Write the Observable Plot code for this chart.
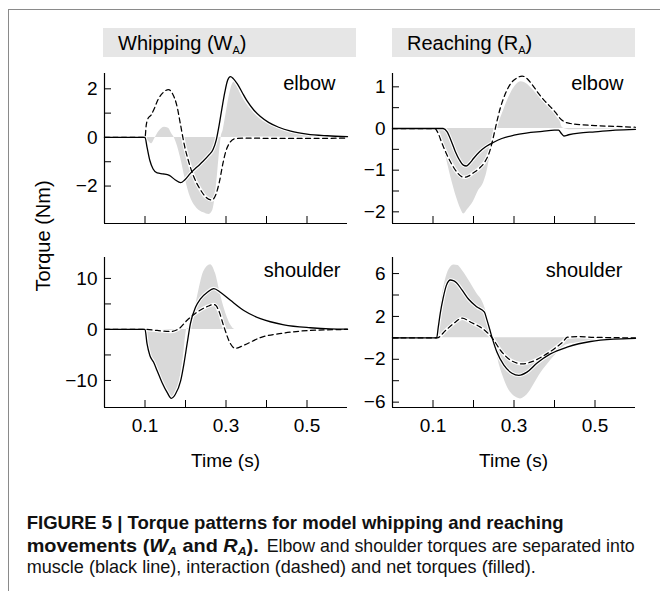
<!DOCTYPE html>
<html>
<head>
<meta charset="utf-8">
<script src="https://cdn.jsdelivr.net/npm/d3@7"></script>
<script src="https://cdn.jsdelivr.net/npm/@observablehq/plot@0.6"></script>
<style>
  body { margin: 0; background: #fff; }
  #root { position: relative; width: 660px; height: 591px; background: #fff; overflow: hidden;
          font-family: "Liberation Sans", Arial, Helvetica, sans-serif; color: #000; }
  .hdr { position: absolute; font-size: 20px; line-height: 20px; white-space: nowrap; }
  .hdr sub { font-size: 11px; vertical-align: -4px; line-height: 0; }
  .ttl { position: absolute; font-size: 19px; line-height: 19px; white-space: nowrap; transform: translateX(-50%); }
</style>
</head>
<body>
<div id="root"></div>
<script>
// ---------------- data (time s, torque Nm) ----------------
const xTicks = [0.1, 0.2, 0.3, 0.4, 0.5];
const xLabels = [0.1, 0.3, 0.5];

// Whipping (W_A) elbow
const wElbowMuscle = [[0,0],[0.1,0],[0.105,-0.4],[0.112,-0.95],[0.12,-1.3],[0.13,-1.46],[0.145,-1.5],[0.16,-1.56],[0.175,-1.75],[0.188,-1.86],[0.198,-1.75],[0.212,-1.48],[0.237,-1.08],[0.258,-0.72],[0.268,-0.5],[0.276,-0.1],[0.283,0.5],[0.29,1.2],[0.297,1.85],[0.304,2.35],[0.311,2.5],[0.318,2.42],[0.328,2.2],[0.34,1.85],[0.352,1.5],[0.369,1.12],[0.385,0.86],[0.405,0.62],[0.43,0.42],[0.46,0.26],[0.5,0.14],[0.55,0.07],[0.6,0.03]];
const wElbowInter = [[0,0],[0.1,0],[0.103,0.5],[0.108,0.8],[0.115,0.92],[0.122,1.15],[0.132,1.55],[0.145,1.85],[0.158,1.97],[0.168,1.8],[0.178,1.35],[0.188,0.5],[0.197,-0.3],[0.207,-0.95],[0.22,-1.6],[0.235,-2.1],[0.25,-2.45],[0.265,-2.57],[0.275,-2.35],[0.284,-1.8],[0.292,-1.1],[0.3,-0.55],[0.31,-0.2],[0.322,-0.05],[0.345,-0.03],[0.45,-0.04],[0.6,-0.03]];
const wElbowNet = [[0,0],[0.1,0],[0.108,-0.15],[0.116,-0.26],[0.124,-0.05],[0.135,0.25],[0.148,0.42],[0.158,0.38],[0.166,0.15],[0.172,0],[0.18,-0.35],[0.188,-0.85],[0.2,-1.75],[0.212,-2.45],[0.229,-2.93],[0.245,-3.1],[0.258,-3.17],[0.266,-3.05],[0.272,-2.6],[0.278,-1.7],[0.284,-0.6],[0.288,0],[0.293,0.3],[0.3,0.95],[0.308,1.7],[0.315,2.15],[0.321,2.28],[0.328,2.1],[0.336,1.8],[0.352,1.35],[0.369,1.0],[0.4,0.58],[0.43,0.37],[0.46,0.22],[0.5,0.12],[0.55,0.05],[0.6,0.02]];
const wElbowTicks = [-2, -1, 0, 1, 2];
const wElbowLabels = [-2, 0, 2];

// Reaching (R_A) elbow
const rElbowMuscle = [[0,0],[0.125,0],[0.135,-0.08],[0.145,-0.3],[0.155,-0.55],[0.165,-0.75],[0.175,-0.88],[0.182,-0.9],[0.19,-0.84],[0.2,-0.72],[0.215,-0.56],[0.23,-0.44],[0.25,-0.33],[0.27,-0.24],[0.3,-0.16],[0.33,-0.11],[0.37,-0.07],[0.4,-0.04],[0.41,-0.04],[0.417,-0.12],[0.423,-0.18],[0.435,-0.15],[0.46,-0.11],[0.5,-0.08],[0.55,-0.04],[0.6,-0.02]];
const rElbowInter = [[0,0],[0.105,0],[0.112,-0.1],[0.122,-0.35],[0.132,-0.58],[0.147,-0.87],[0.16,-1.06],[0.172,-1.16],[0.18,-1.17],[0.19,-1.13],[0.2,-1.06],[0.215,-0.95],[0.228,-0.8],[0.24,-0.55],[0.248,-0.25],[0.255,0.05],[0.265,0.45],[0.278,0.82],[0.292,1.08],[0.307,1.21],[0.32,1.26],[0.332,1.2],[0.345,1.05],[0.36,0.85],[0.375,0.67],[0.39,0.52],[0.403,0.38],[0.413,0.25],[0.423,0.17],[0.44,0.12],[0.47,0.09],[0.5,0.07],[0.55,0.05],[0.6,0.03]];
const rElbowNet = [[0,0],[0.108,0],[0.118,-0.15],[0.13,-0.6],[0.145,-1.2],[0.158,-1.65],[0.168,-1.92],[0.176,-2.05],[0.185,-1.95],[0.2,-1.75],[0.212,-1.5],[0.225,-1.3],[0.233,-1.05],[0.241,-0.65],[0.249,-0.25],[0.257,0],[0.265,0.2],[0.275,0.45],[0.288,0.76],[0.304,1.03],[0.318,1.12],[0.33,1.08],[0.345,0.95],[0.37,0.68],[0.39,0.48],[0.405,0.35],[0.413,0.2],[0.42,0.02],[0.44,-0.03],[0.5,-0.02],[0.6,0]];
const rElbowTicks = [-2, -1.5, -1, -0.5, 0, 0.5, 1];
const rElbowLabels = [-2, -1, 0, 1];

// Whipping (W_A) shoulder
const wShoulderMuscle = [[0,0],[0.1,0],[0.105,-2.8],[0.112,-5.1],[0.121,-6.4],[0.13,-8.1],[0.142,-10.4],[0.155,-12.4],[0.165,-13.5],[0.175,-12.7],[0.188,-10.1],[0.196,-6.8],[0.204,-2.8],[0.212,1.1],[0.225,4.4],[0.237,6.0],[0.254,7.3],[0.27,8.0],[0.286,7.3],[0.311,5.7],[0.344,3.7],[0.385,2.1],[0.443,0.9],[0.508,0.33],[0.557,0.1],[0.6,0.05]];
const wShoulderInter = [[0,0],[0.1,0],[0.13,-0.2],[0.163,-0.4],[0.183,0.1],[0.204,1.8],[0.229,3.4],[0.254,4.5],[0.27,4.9],[0.276,4.6],[0.282,3.7],[0.295,0.5],[0.311,-2.8],[0.323,-3.7],[0.344,-3.1],[0.385,-1.6],[0.443,-0.7],[0.508,-0.2],[0.6,0]];
const wShoulderNet = [[0,0],[0.1,0],[0.105,-3.0],[0.112,-5.3],[0.121,-6.6],[0.13,-8.3],[0.142,-10.7],[0.155,-12.7],[0.165,-13.7],[0.175,-12.9],[0.183,-11.0],[0.19,-8.0],[0.196,-4.5],[0.2,-1.5],[0.203,0],[0.212,0.5],[0.221,3.1],[0.233,7.7],[0.245,11.3],[0.262,12.7],[0.274,11],[0.286,7],[0.295,4.3],[0.303,2.4],[0.312,0.8],[0.322,0],[0.6,0]];
const wShoulderTicks = [-10, -5, 0, 5, 10];
const wShoulderLabels = [-10, 0, 10];

// Reaching (R_A) shoulder
const rShoulderMuscle = [[0,0],[0.109,0],[0.113,1.0],[0.118,2.3],[0.125,3.7],[0.133,4.9],[0.143,5.4],[0.15,5.35],[0.158,5.15],[0.172,4.45],[0.188,3.6],[0.209,2.87],[0.227,2.4],[0.233,1.7],[0.24,0.8],[0.246,0],[0.258,-1.35],[0.275,-2.55],[0.295,-3.3],[0.312,-3.5],[0.332,-3.2],[0.357,-2.35],[0.39,-1.5],[0.431,-0.87],[0.46,-0.55],[0.489,-0.34],[0.546,-0.12],[0.6,-0.04]];
const rShoulderInter = [[0,0],[0.11,0],[0.131,0.68],[0.152,1.37],[0.172,1.84],[0.193,1.46],[0.217,1.0],[0.233,0.53],[0.246,0],[0.267,-1.18],[0.292,-2.1],[0.321,-2.43],[0.341,-2.27],[0.374,-1.65],[0.399,-1.03],[0.42,-0.4],[0.432,0.06],[0.457,0.12],[0.5,0.05],[0.6,0]];
const rShoulderNet = [[0,0],[0.109,0],[0.115,1.8],[0.122,3.8],[0.13,5.3],[0.14,6.4],[0.152,6.8],[0.162,6.75],[0.172,6.3],[0.183,5.7],[0.193,5.1],[0.209,4.1],[0.222,3.4],[0.23,2.6],[0.238,1.3],[0.248,0],[0.258,-1.6],[0.266,-2.8],[0.275,-3.8],[0.285,-4.7],[0.295,-5.25],[0.307,-5.6],[0.316,-5.7],[0.327,-5.5],[0.337,-5.1],[0.35,-4.3],[0.366,-3.3],[0.38,-2.6],[0.395,-1.9],[0.41,-1.3],[0.42,-0.9],[0.43,-0.65],[0.45,-0.5],[0.49,-0.3],[0.55,-0.12],[0.6,-0.05]];
const rShoulderTicks = [-6, -4, -2, 0, 2, 4, 6];
const rShoulderLabels = [-6, -2, 2, 6];

const headers = ["Whipping (W", "Reaching (R"];
const headerSubs = ["A", "A"];
const jointLabels = ["elbow", "shoulder"];
const captionTitle = "FIGURE 5 | Torque patterns for model whipping and reaching";
const captionLine3 = "muscle (black line), interaction (dashed) and net torques (filled).";
const captionLine2Rest = "Elbow and shoulder torques are separated into";

// ---------------- drawing ----------------
const FONT = '"Liberation Sans", Arial, Helvetica, sans-serif';
const root = document.getElementById("root");
const X = d => d[0], Y = d => d[1];
const curve = "monotone-x";

function panel(cfg) {
  const marks = [
    Plot.areaY(cfg.net, {x: X, y: Y, fill: "#d9d9d9", curve}),
    Plot.lineY(cfg.inter, {x: X, y: Y, stroke: "white", strokeWidth: 3.5, curve}),
    Plot.lineY(cfg.muscle, {x: X, y: Y, stroke: "white", strokeWidth: 3.5, curve}),
    Plot.lineY(cfg.inter, {x: X, y: Y, stroke: "black", strokeWidth: 1.25, strokeDasharray: "5,3.5", curve}),
    Plot.lineY(cfg.muscle, {x: X, y: Y, stroke: "black", strokeWidth: 1.3, curve}),
    Plot.ruleX([0], {stroke: "black", strokeWidth: 1.2}),
    Plot.ruleY([cfg.yDomain[0]], {stroke: "black", strokeWidth: 1.2}),
    Plot.axisY(cfg.yTicks, {tickSize: -7, tickFormat: () => "", label: null, strokeWidth: 1}),
    Plot.axisY(cfg.yLabels, {tickSize: 0, tickPadding: 7, label: null, fontSize: 19}),
    Plot.axisX(xTicks, {tickSize: -7, tickFormat: () => "", label: null, strokeWidth: 1}),
    Plot.text([cfg.label], {frameAnchor: "top-right", dx: cfg.ldx, dy: cfg.ldy, fontSize: 20})
  ];
  if (cfg.showX) marks.push(Plot.axisX(xLabels, {tickSize: 0, tickPadding: 11, label: null, fontSize: 19, tickFormat: d => d.toFixed(1)}));
  const svg = Plot.plot({
    width: 313, height: 200,
    marginLeft: 50, marginRight: 20, marginTop: 10, marginBottom: 40,
    x: {domain: [0, 0.6]},
    y: {domain: cfg.yDomain},
    style: {fontFamily: FONT, fontSize: "19px", background: "transparent", overflow: "visible", color: "black"},
    marks
  });
  svg.style.position = "absolute";
  svg.style.left = cfg.left + "px";
  svg.style.top = cfg.top + "px";
  root.appendChild(svg);
}

function rect(left, top, w, h, bg) {
  const d = document.createElement("div");
  Object.assign(d.style, {position: "absolute", left: left + "px", top: top + "px", width: w + "px", height: h + "px", background: bg});
  root.appendChild(d);
  return d;
}
// frame lines
rect(8, 8.5, 652, 1.3, "#8a8a8a");
rect(7.8, 8.5, 1.3, 583, "#8a8a8a");

// header bands
rect(103, 28, 253, 29, "#e6e6e6");
rect(392, 28, 243, 29, "#e6e6e6");
[[118, 0], [407, 1]].forEach(([x, i]) => {
  const h = document.createElement("div");
  h.className = "hdr";
  h.style.left = x + "px";
  h.style.top = "32.5px";
  h.innerHTML = headers[i] + "<sub>" + headerSubs[i] + "</sub>)";
  root.appendChild(h);
});

panel({muscle: wElbowMuscle, inter: wElbowInter, net: wElbowNet, yDomain: [-3.54, 2.63], yTicks: wElbowTicks, yLabels: wElbowLabels, label: jointLabels[0], ldx: -12, ldy: 2, left: 54, top: 63, showX: false});
panel({muscle: rElbowMuscle, inter: rElbowInter, net: rElbowNet, yDomain: [-2.28, 1.32], yTicks: rElbowTicks, yLabels: rElbowLabels, label: jointLabels[0], ldx: -12, ldy: 2, left: 342, top: 63, showX: false});
panel({muscle: wShoulderMuscle, inter: wShoulderInter, net: wShoulderNet, yDomain: [-15.3, 14.1], yTicks: wShoulderTicks, yLabels: wShoulderLabels, label: jointLabels[1], ldx: -7, ldy: 5, left: 54, top: 247, showX: true});
panel({muscle: rShoulderMuscle, inter: rShoulderInter, net: rShoulderNet, yDomain: [-6.5, 7.5], yTicks: rShoulderTicks, yLabels: rShoulderLabels, label: jointLabels[1], ldx: -13, ldy: 5, left: 342, top: 247, showX: true});

// axis titles
const yt = document.createElement("div");
Object.assign(yt.style, {position: "absolute", left: "43px", top: "236px", fontSize: "20px", lineHeight: "20px", whiteSpace: "nowrap",
  transform: "translate(-50%,-50%) rotate(-90deg)"});
yt.textContent = "Torque (Nm)";
root.appendChild(yt);
[225.5, 513.5].forEach(cx => {
  const t = document.createElement("div");
  t.className = "ttl";
  t.style.left = cx + "px";
  t.style.top = "450.5px";
  t.textContent = "Time (s)";
  root.appendChild(t);
});

// caption
const NS = "http://www.w3.org/2000/svg";
const cap = document.createElementNS(NS, "svg");
cap.setAttribute("width", 660); cap.setAttribute("height", 91);
Object.assign(cap.style, {position: "absolute", left: "0px", top: "500px", overflow: "visible"});
cap.innerHTML = `
<g id="capg" font-family='"Liberation Sans Narrow", "Liberation Sans", Arial, sans-serif' font-size="17.5" fill="#111">
  <text id="c1" x="26.7" y="29.3" font-weight="bold">${captionTitle}</text>
  <text id="c2a" x="26.7" y="51.7" font-weight="bold">movements (<tspan font-style="italic">W</tspan><tspan font-style="italic" font-size="0.62em" dy="3">A</tspan><tspan dy="-3"> and </tspan><tspan font-style="italic">R</tspan><tspan font-style="italic" font-size="0.62em" dy="3">A</tspan><tspan dy="-3">).</tspan></text>
  <text id="c2b" x="266.7" y="51.7">${captionLine2Rest}</text>
  <text id="c3" x="26.7" y="72.7">${captionLine3}</text>
</g>`;
root.appendChild(cap);
// fit caption text to the reference extents
function fit(el, len) { el.setAttribute("textLength", len.toFixed(1)); el.setAttribute("lengthAdjust", "spacingAndGlyphs"); }
const c1 = cap.querySelector("#c1"), c2a = cap.querySelector("#c2a"), c2b = cap.querySelector("#c2b"), c3 = cap.querySelector("#c3");
const fs = 17.5 * 368 / c2b.getComputedTextLength();
cap.querySelector("#capg").setAttribute("font-size", fs.toFixed(2));
fit(c2b, 368);
fit(c2a, 232);
{ const sub = c1.getSubStringLength(0, 33), tot = c1.getComputedTextLength(); fit(c1, tot * 303.3 / sub); }
{ const sub = c3.getSubStringLength(0, 39), tot = c3.getComputedTextLength(); fit(c3, tot * 303.3 / sub); }
</script>
</body>
</html>
